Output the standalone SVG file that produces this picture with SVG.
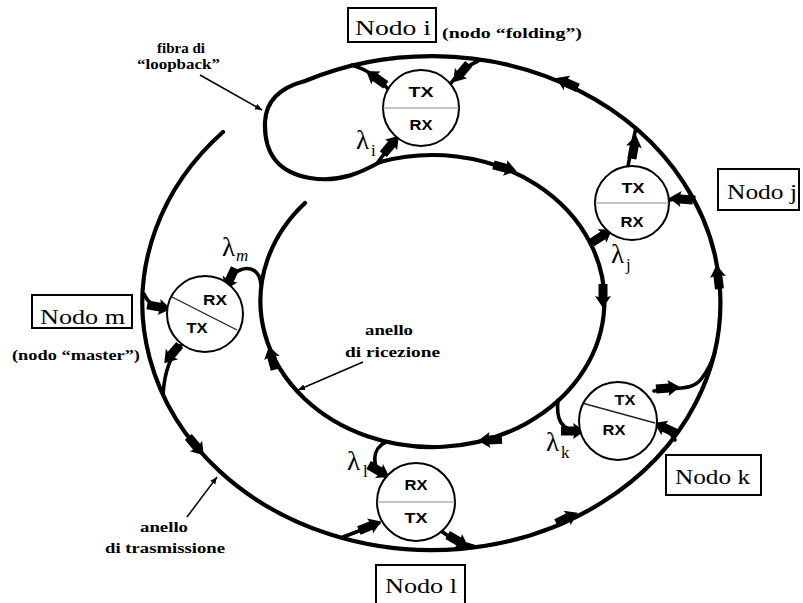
<svg xmlns="http://www.w3.org/2000/svg" xmlns:xlink="http://www.w3.org/1999/xlink" width="803" height="603" viewBox="0 0 803 603">
<style>
.ring{fill:none;stroke:#000;stroke-width:4.2;stroke-linecap:round;stroke-linejoin:round}
.tap{fill:none;stroke:#000;stroke-width:3.6;stroke-linecap:round}
.ptr{fill:none;stroke:#000;stroke-width:1.5}
.nc{fill:#fff;stroke:#000;stroke-width:2}
.dv{stroke:#888;stroke-width:1.2}
.dvk{stroke:#222;stroke-width:1.4}
.trx{font-family:"Liberation Sans",Arial,sans-serif;font-weight:bold;font-size:14px;text-anchor:middle}
.box{fill:#fff;stroke:#000;stroke-width:2}
.nl{font-family:"Liberation Serif","Times New Roman",serif;font-size:22px}
.lb{font-family:"Liberation Serif","Times New Roman",serif;font-weight:bold;font-size:15px}
.lam{font-family:"Liberation Serif","Times New Roman",serif;font-size:27px}
.sub{font-family:"Liberation Serif","Times New Roman",serif;font-size:17px}
</style>
<defs>
<path id="ah" d="M -12 -4.5 L 1 -4.5 L 0 -8 L 12 0 L 0 8 L 1 4.5 L -12 4.5 Z" fill="#000"/>
<marker id="pm" markerWidth="8" markerHeight="8" refX="7" refY="4" orient="auto" markerUnits="userSpaceOnUse">
<path d="M0 1 L7 4 L0 7 Z" fill="#000"/>
</marker>
</defs>
<rect width="803" height="603" fill="#fff"/>

<g id="connectors">
<!-- transmission ring + loopback -->
<path class="ring" d="M 223 132 A 289 247 0 1 0 305 81 C 282 87 266 100 265 122 C 264 152 276 172 310 178 C 340 183 362 172 380 162"/>
<!-- reception ring -->
<path class="ring" d="M 380 162 A 172 146 0 1 1 305 203"/>
<!-- node taps on transmission ring -->
<path class="tap" d="M 478 61 Q 462 68 451 83"/>
<path class="tap" d="M 388 89 Q 375 72 352 65"/>
<path class="tap" d="M 628 166 Q 632 145 636 128"/>
<path class="tap" d="M 694 197 L 669 200"/>
<path class="tap" d="M 654 391 C 675 386 692 392 702 378 C 708 370 712 362 715 352"/>
<path class="tap" d="M 675 440 Q 668 428 656 424"/>
<path class="tap" d="M 343 537 Q 362 530 379 523"/>
<path class="tap" d="M 441 531 Q 455 542 476 547"/>
<path class="tap" d="M 144 294 Q 150 308 168 309"/>
<path class="tap" d="M 182 344 Q 165 360 163 395"/>
<!-- lambda drops from reception ring -->
<path class="tap" d="M 378 162 Q 388 148 399 136"/>
<path class="tap" d="M 590 243 L 609 231"/>
<path class="tap" d="M 558 400 C 556 418 560 431 580 431"/>
<path class="tap" d="M 386 442 C 372 448 370 468 386 477"/>
<path class="tap" d="M 261 285 C 260 270 250 266 240 270 C 232 273 229 278 228 284"/>
<!-- arrowheads on transmission ring -->
<use xlink:href="#ah" transform="translate(567,83) rotate(204)"/>
<use xlink:href="#ah" transform="translate(718,277) rotate(263)"/>
<use xlink:href="#ah" transform="translate(567,518) rotate(-26)"/>
<use xlink:href="#ah" transform="translate(196,446) rotate(50)"/>
<!-- arrowheads on reception ring -->
<use xlink:href="#ah" transform="translate(505,168) rotate(15)"/>
<use xlink:href="#ah" transform="translate(603,296) rotate(90)"/>
<use xlink:href="#ah" transform="translate(490,440) rotate(176)"/>
<use xlink:href="#ah" transform="translate(272,358) rotate(255)"/>
<!-- tap arrowheads -->
<use xlink:href="#ah" transform="translate(461,73) rotate(130)"/>
<use xlink:href="#ah" transform="translate(376,78) rotate(215)"/>
<use xlink:href="#ah" transform="translate(634,147) rotate(-80)"/>
<use xlink:href="#ah" transform="translate(681,199) rotate(185)"/>
<use xlink:href="#ah" transform="translate(668,388) rotate(-5)"/>
<use xlink:href="#ah" transform="translate(665,428) rotate(205)"/>
<use xlink:href="#ah" transform="translate(370,526) rotate(-22)"/>
<use xlink:href="#ah" transform="translate(458,541) rotate(30)"/>
<use xlink:href="#ah" transform="translate(159,307) rotate(10)"/>
<use xlink:href="#ah" transform="translate(172,354) rotate(130)"/>
<use xlink:href="#ah" transform="translate(391,145) rotate(-50)"/>
<use xlink:href="#ah" transform="translate(602,236) rotate(-33)"/>
<use xlink:href="#ah" transform="translate(573,431) rotate(0)"/>
<use xlink:href="#ah" transform="translate(379,471) rotate(30)"/>
<use xlink:href="#ah" transform="translate(230,279) rotate(115)"/>
<!-- label pointers -->
<path class="ptr" d="M 200 75 L 262 110" marker-end="url(#pm)"/>
<path class="ptr" d="M 363 362 L 298 390" marker-end="url(#pm)"/>
<path class="ptr" d="M 187 517 L 217 477" marker-end="url(#pm)"/>
</g>

<g id="node-i">
<circle class="nc" cx="421" cy="108" r="38"/>
<line class="dv" x1="383" y1="108" x2="459" y2="108"/>
<text class="trx" x="421" y="97" textLength="25" lengthAdjust="spacingAndGlyphs">TX</text>
<text class="trx" x="421" y="130" textLength="23" lengthAdjust="spacingAndGlyphs">RX</text>
<rect class="box" x="348" y="8" width="88" height="34"/>
<text class="nl" x="355" y="35" textLength="76" lengthAdjust="spacingAndGlyphs">Nodo i</text>
<text class="lb" x="442" y="38" textLength="140" lengthAdjust="spacingAndGlyphs">(nodo “folding”)</text>
<text class="lam" x="356" y="149">λ</text><text class="sub" x="371" y="156">i</text>
</g>

<g id="node-j">
<circle class="nc" cx="632" cy="203" r="37"/>
<line class="dv" x1="595" y1="203" x2="669" y2="203"/>
<text class="trx" x="633" y="193" textLength="23" lengthAdjust="spacingAndGlyphs">TX</text>
<text class="trx" x="632" y="227" textLength="23" lengthAdjust="spacingAndGlyphs">RX</text>
<rect class="box" x="718" y="169" width="81" height="41"/>
<text class="nl" x="727" y="199" textLength="70" lengthAdjust="spacingAndGlyphs">Nodo j</text>
<text class="lam" x="611" y="263">λ</text><text class="sub" x="626" y="270">j</text>
</g>

<g id="node-k">
<circle class="nc" cx="618" cy="421" r="39"/>
<line class="dvk" x1="582" y1="403" x2="655" y2="423"/>
<text class="trx" x="625" y="405" textLength="21" lengthAdjust="spacingAndGlyphs">TX</text>
<text class="trx" x="614" y="435" textLength="23" lengthAdjust="spacingAndGlyphs">RX</text>
<rect class="box" x="666" y="455" width="95" height="40"/>
<text class="nl" x="675" y="484" textLength="75" lengthAdjust="spacingAndGlyphs">Nodo k</text>
<text class="lam" x="546" y="451">λ</text><text class="sub" x="561" y="458">k</text>
</g>

<g id="node-l">
<circle class="nc" cx="416" cy="502" r="39"/>
<line class="dv" x1="377" y1="502" x2="455" y2="502"/>
<text class="trx" x="416" y="490" textLength="23" lengthAdjust="spacingAndGlyphs">RX</text>
<text class="trx" x="416" y="523" textLength="23" lengthAdjust="spacingAndGlyphs">TX</text>
<rect class="box" x="376" y="565" width="89" height="45"/>
<text class="nl" x="385" y="593" textLength="72" lengthAdjust="spacingAndGlyphs">Nodo l</text>
<text class="lam" x="347" y="470">λ</text><text class="sub" x="363" y="477">l</text>
</g>

<g id="node-m">
<circle class="nc" cx="205" cy="314" r="38"/>
<line class="dvk" x1="172" y1="297" x2="237" y2="330"/>
<text class="trx" x="215" y="305" textLength="24" lengthAdjust="spacingAndGlyphs">RX</text>
<text class="trx" x="197" y="333" textLength="21" lengthAdjust="spacingAndGlyphs">TX</text>
<rect class="box" x="32" y="295" width="100" height="33"/>
<text class="nl" x="40" y="324" textLength="85" lengthAdjust="spacingAndGlyphs">Nodo m</text>
<text class="lb" x="12" y="360" textLength="128" lengthAdjust="spacingAndGlyphs">(nodo “master”)</text>
<text class="lam" x="222" y="256">λ</text><text class="sub" x="236" y="261" font-style="italic">m</text>
</g>

<g id="labels">
<text class="lb" x="157" y="53" textLength="48" lengthAdjust="spacingAndGlyphs">fibra di</text>
<text class="lb" x="137" y="69" textLength="83" lengthAdjust="spacingAndGlyphs">“loopback”</text>
<text class="lb" x="365" y="335" textLength="48" lengthAdjust="spacingAndGlyphs">anello</text>
<text class="lb" x="345" y="357" textLength="95" lengthAdjust="spacingAndGlyphs">di ricezione</text>
<text class="lb" x="140" y="532" textLength="48" lengthAdjust="spacingAndGlyphs">anello</text>
<text class="lb" x="105" y="553" textLength="120" lengthAdjust="spacingAndGlyphs">di trasmissione</text>
</g>
</svg>
